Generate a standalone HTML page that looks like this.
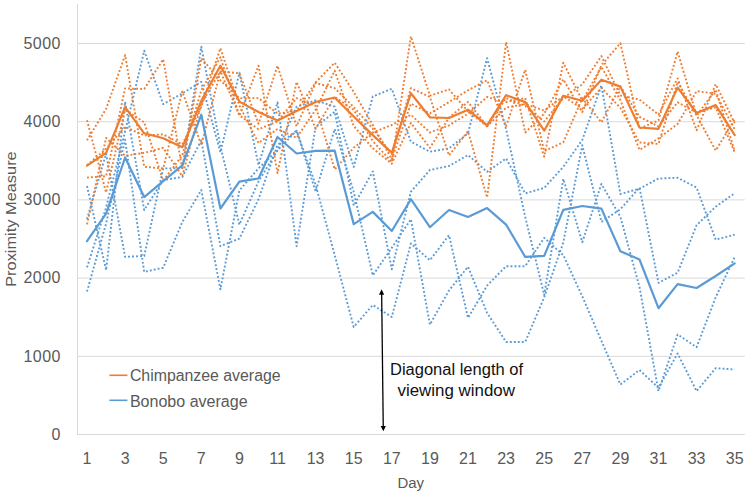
<!DOCTYPE html><html><head><meta charset="utf-8"><title>chart</title>
<style>html,body{margin:0;padding:0;background:#fff;}svg{display:block;}text{font-family:"Liberation Sans",sans-serif;}</style></head><body>
<svg width="749" height="496" viewBox="0 0 749 496">
<rect width="749" height="496" fill="#fff"/>
<g stroke="#D9D9D9" stroke-width="1" fill="none">
<line x1="77.0" y1="434.50" x2="744.8" y2="434.50"/>
<line x1="77.0" y1="356.30" x2="744.8" y2="356.30"/>
<line x1="77.0" y1="278.10" x2="744.8" y2="278.10"/>
<line x1="77.0" y1="199.90" x2="744.8" y2="199.90"/>
<line x1="77.0" y1="121.70" x2="744.8" y2="121.70"/>
<line x1="77.0" y1="43.50" x2="744.8" y2="43.50"/>
<line x1="77.5" y1="4" x2="77.5" y2="435.0"/>
</g>
<g fill="none" stroke-width="1.9" stroke-dasharray="1.9 2.1" stroke-linejoin="round">
<path stroke="#5B9BD5" d="M87.0 267.4 L106.1 207.5 L125.1 131.5 L144.2 50.7 L163.2 104.1 L182.3 93.4 L201.3 81.8 L220.4 152.4 L239.4 72.7 L258.5 165.1 L277.5 102.4 L296.6 246.2 L315.6 126.8 L334.7 111.8 L353.7 205.6 L372.8 171.4 L391.8 269.2 L410.9 191.7 L429.9 170.0 L449.0 166.0 L468.0 155.0 L487.1 171.8 L506.1 158.4 L525.2 193.4 L544.2 187.9 L563.3 166.8 L582.3 140.0 L601.4 85.4 L620.4 194.0 L639.5 188.7 L658.5 178.5 L677.6 177.8 L696.6 187.6 L715.7 239.7 L734.7 234.6"/>
<path stroke="#5B9BD5" d="M87.0 219.2 L106.1 153.7 L125.1 256.8 L144.2 256.0 L163.2 168.4 L182.3 168.4 L201.3 46.7 L220.4 146.2 L239.4 224.6 L258.5 181.4 L277.5 150.4 L296.6 106.7 L315.6 100.3 L334.7 106.7 L353.7 166.9 L372.8 96.5 L391.8 88.9 L410.9 141.7 L429.9 151.7 L449.0 148.4 L468.0 133.3 L487.1 58.2 L506.1 129.3 L525.2 216.8 L544.2 295.0 L563.3 178.9 L582.3 242.2 L601.4 184.0 L620.4 216.8 L639.5 287.1 L658.5 391.1 L677.6 334.5 L696.6 347.2 L715.7 297.3 L734.7 257.0"/>
<path stroke="#5B9BD5" d="M87.0 186.0 L106.1 270.2 L125.1 101.8 L144.2 210.0 L163.2 180.1 L182.3 177.0 L201.3 140.4 L220.4 246.2 L239.4 238.6 L258.5 199.2 L277.5 145.0 L296.6 130.7 L315.6 191.6 L334.7 129.1 L353.7 191.8 L372.8 275.4 L391.8 247.8 L410.9 219.2 L429.9 324.6 L449.0 290.5 L468.0 266.8 L487.1 312.9 L506.1 342.0 L525.2 342.0 L544.2 297.3 L563.3 242.6 L582.3 145.3 L601.4 221.9 L620.4 209.2 L639.5 187.6 L658.5 282.9 L677.6 272.7 L696.6 225.2 L715.7 206.7 L734.7 193.2"/>
<path stroke="#5B9BD5" d="M87.0 291.6 L106.1 223.5 L125.1 139.7 L144.2 271.9 L163.2 267.7 L182.3 222.0 L201.3 190.0 L220.4 289.4 L239.4 190.4 L258.5 168.4 L277.5 150.4 L296.6 130.7 L315.6 184.8 L334.7 255.1 L353.7 327.0 L372.8 305.0 L391.8 317.0 L410.9 243.5 L429.9 260.2 L449.0 235.2 L468.0 317.9 L487.1 285.6 L506.1 266.2 L525.2 266.2 L544.2 237.9 L563.3 255.1 L582.3 296.4 L601.4 340.8 L620.4 384.5 L639.5 370.0 L658.5 387.8 L677.6 353.5 L696.6 391.1 L715.7 368.2 L734.7 369.5"/>
<path stroke="#ED7D31" d="M87.0 120.2 L106.1 192.5 L125.1 109.8 L144.2 122.3 L163.2 180.7 L182.3 155.2 L201.3 90.3 L220.4 57.2 L239.4 115.7 L258.5 65.7 L277.5 173.1 L296.6 81.8 L315.6 128.8 L334.7 96.8 L353.7 109.8 L372.8 141.1 L391.8 162.1 L410.9 36.4 L429.9 95.7 L449.0 89.4 L468.0 111.4 L487.1 126.2 L506.1 98.1 L525.2 105.9 L544.2 121.5 L563.3 98.1 L582.3 84.3 L601.4 56.1 L620.4 95.5 L639.5 99.6 L658.5 114.6 L677.6 78.4 L696.6 130.3 L715.7 84.3 L734.7 123.1"/>
<path stroke="#ED7D31" d="M87.0 224.4 L106.1 137.9 L125.1 155.7 L144.2 152.9 L163.2 147.8 L182.3 176.2 L201.3 103.8 L220.4 71.4 L239.4 73.3 L258.5 123.8 L277.5 65.7 L296.6 126.2 L315.6 83.0 L334.7 88.1 L353.7 107.1 L372.8 128.7 L391.8 154.2 L410.9 88.1 L429.9 97.0 L449.0 155.4 L468.0 131.3 L487.1 197.5 L506.1 42.1 L525.2 132.5 L544.2 113.7 L563.3 79.3 L582.3 112.2 L601.4 65.3 L620.4 43.1 L639.5 128.5 L658.5 120.5 L677.6 51.5 L696.6 115.7 L715.7 89.6 L734.7 151.2"/>
<path stroke="#ED7D31" d="M87.0 177.6 L106.1 176.2 L125.1 88.4 L144.2 89.0 L163.2 59.3 L182.3 169.3 L201.3 58.2 L220.4 80.4 L239.4 98.1 L258.5 98.1 L277.5 113.7 L296.6 111.0 L315.6 82.5 L334.7 62.7 L353.7 91.9 L372.8 125.0 L391.8 159.3 L410.9 103.6 L429.9 113.5 L449.0 102.1 L468.0 90.3 L487.1 80.2 L506.1 126.2 L525.2 69.8 L544.2 151.2 L563.3 142.3 L582.3 98.1 L601.4 122.4 L620.4 86.4 L639.5 116.8 L658.5 126.5 L677.6 102.3 L696.6 112.7 L715.7 107.3 L734.7 152.5"/>
<path stroke="#ED7D31" d="M87.0 140.3 L106.1 108.9 L125.1 55.1 L144.2 166.8 L163.2 168.5 L182.3 91.4 L201.3 145.0 L220.4 71.5 L239.4 115.3 L258.5 129.3 L277.5 121.5 L296.6 98.1 L315.6 105.9 L334.7 169.4 L353.7 147.8 L372.8 132.5 L391.8 125.0 L410.9 114.8 L429.9 132.5 L449.0 125.4 L468.0 113.7 L487.1 97.0 L506.1 102.0 L525.2 98.1 L544.2 156.7 L563.3 62.7 L582.3 100.8 L601.4 66.8 L620.4 100.1 L639.5 149.9 L658.5 138.4 L677.6 123.9 L696.6 91.1 L715.7 93.8 L734.7 129.3"/>
<path stroke="#ED7D31" d="M87.0 165.3 L106.1 148.8 L125.1 126.8 L144.2 135.5 L163.2 134.4 L182.3 144.4 L201.3 106.8 L220.4 48.2 L239.4 105.6 L258.5 143.1 L277.5 128.9 L296.6 137.8 L315.6 109.8 L334.7 70.7 L353.7 126.0 L372.8 148.3 L391.8 163.7 L410.9 123.0 L429.9 147.8 L449.0 117.7 L468.0 101.9 L487.1 126.3 L506.1 107.6 L525.2 104.0 L544.2 110.6 L563.3 96.4 L582.3 108.6 L601.4 88.0 L620.4 107.9 L639.5 142.5 L658.5 143.9 L677.6 82.0 L696.6 115.3 L715.7 150.5 L734.7 119.4"/>
</g>
<g fill="none" stroke-width="2.2" stroke-linejoin="round" stroke-linecap="round">
<path stroke="#5B9BD5" d="M87.0 241.2 L106.1 213.7 L125.1 157.5 L144.2 197.1 L163.2 181.1 L182.3 165.3 L201.3 114.7 L220.4 208.5 L239.4 181.6 L258.5 178.5 L277.5 137.0 L296.6 153.5 L315.6 150.9 L334.7 150.7 L353.7 224.1 L372.8 211.9 L391.8 231.0 L410.9 199.2 L429.9 227.2 L449.0 210.0 L468.0 217.0 L487.1 208.1 L506.1 224.6 L525.2 256.9 L544.2 255.9 L563.3 209.8 L582.3 206.0 L601.4 208.6 L620.4 251.2 L639.5 259.5 L658.5 308.2 L677.6 284.1 L696.6 288.0 L715.7 276.0 L734.7 263.3"/>
<path stroke="#ED7D31" d="M87.0 165.6 L106.1 152.8 L125.1 107.1 L144.2 133.3 L163.2 138.2 L182.3 147.3 L201.3 100.8 L220.4 65.7 L239.4 101.6 L258.5 112.0 L277.5 120.6 L296.6 111.0 L315.6 102.0 L334.7 97.5 L353.7 116.5 L372.8 135.1 L391.8 152.8 L410.9 93.2 L429.9 117.3 L449.0 118.0 L468.0 109.7 L487.1 125.4 L506.1 95.2 L525.2 102.1 L544.2 130.7 L563.3 95.7 L582.3 100.8 L601.4 79.7 L620.4 86.6 L639.5 127.5 L658.5 128.8 L677.6 87.6 L696.6 113.0 L715.7 105.1 L734.7 135.1"/>
</g>
<g fill="#595959" font-size="16" text-anchor="end" letter-spacing="0.5">
<text x="61.0" y="439.8">0</text>
<text x="61.0" y="361.6">1000</text>
<text x="61.0" y="283.4">2000</text>
<text x="61.0" y="205.2">3000</text>
<text x="61.0" y="127.0">4000</text>
<text x="61.0" y="48.8">5000</text>
</g>
<g fill="#595959" font-size="16" text-anchor="middle">
<text x="87.0" y="463.5">1</text>
<text x="125.1" y="463.5">3</text>
<text x="163.2" y="463.5">5</text>
<text x="201.3" y="463.5">7</text>
<text x="239.4" y="463.5">9</text>
<text x="277.5" y="463.5">11</text>
<text x="315.6" y="463.5">13</text>
<text x="353.7" y="463.5">15</text>
<text x="391.8" y="463.5">17</text>
<text x="429.9" y="463.5">19</text>
<text x="468.0" y="463.5">21</text>
<text x="506.1" y="463.5">23</text>
<text x="544.2" y="463.5">25</text>
<text x="582.3" y="463.5">27</text>
<text x="620.4" y="463.5">29</text>
<text x="658.5" y="463.5">31</text>
<text x="696.6" y="463.5">33</text>
<text x="734.7" y="463.5">35</text>
</g>
<text x="397.5" y="487.7" font-size="14.7" fill="#595959" textLength="26.6" lengthAdjust="spacingAndGlyphs">Day</text>
<text transform="translate(16.1 286.8) rotate(-90)" font-size="14.7" fill="#595959" textLength="135.5" lengthAdjust="spacingAndGlyphs">Proximity Measure</text>
<line x1="109.4" y1="375.3" x2="127.4" y2="375.3" stroke="#ED7D31" stroke-width="1.6"/>
<line x1="109.4" y1="400.3" x2="127.4" y2="400.3" stroke="#5B9BD5" stroke-width="1.6"/>
<text x="129.9" y="381.1" font-size="16" fill="#595959" textLength="150.7" lengthAdjust="spacingAndGlyphs">Chimpanzee average</text>
<text x="129.9" y="406.5" font-size="16" fill="#595959" textLength="117.7" lengthAdjust="spacingAndGlyphs">Bonobo average</text>
<g stroke="#000" stroke-width="1.3" fill="#000"><line x1="381.65" y1="293" x2="383.25" y2="427"/>
<path stroke="none" d="M381.6 289.3 L384.2 294.8 L379.0 294.8 Z"/><path stroke="none" d="M383.3 431.3 L385.9 425.9 L380.7 425.9 Z"/></g>
<text x="390" y="374.6" font-size="16" fill="#111" textLength="133" lengthAdjust="spacingAndGlyphs">Diagonal length of</text>
<text x="397.5" y="396.2" font-size="16" fill="#111" textLength="117.5" lengthAdjust="spacingAndGlyphs">viewing window</text>
</svg></body></html>
